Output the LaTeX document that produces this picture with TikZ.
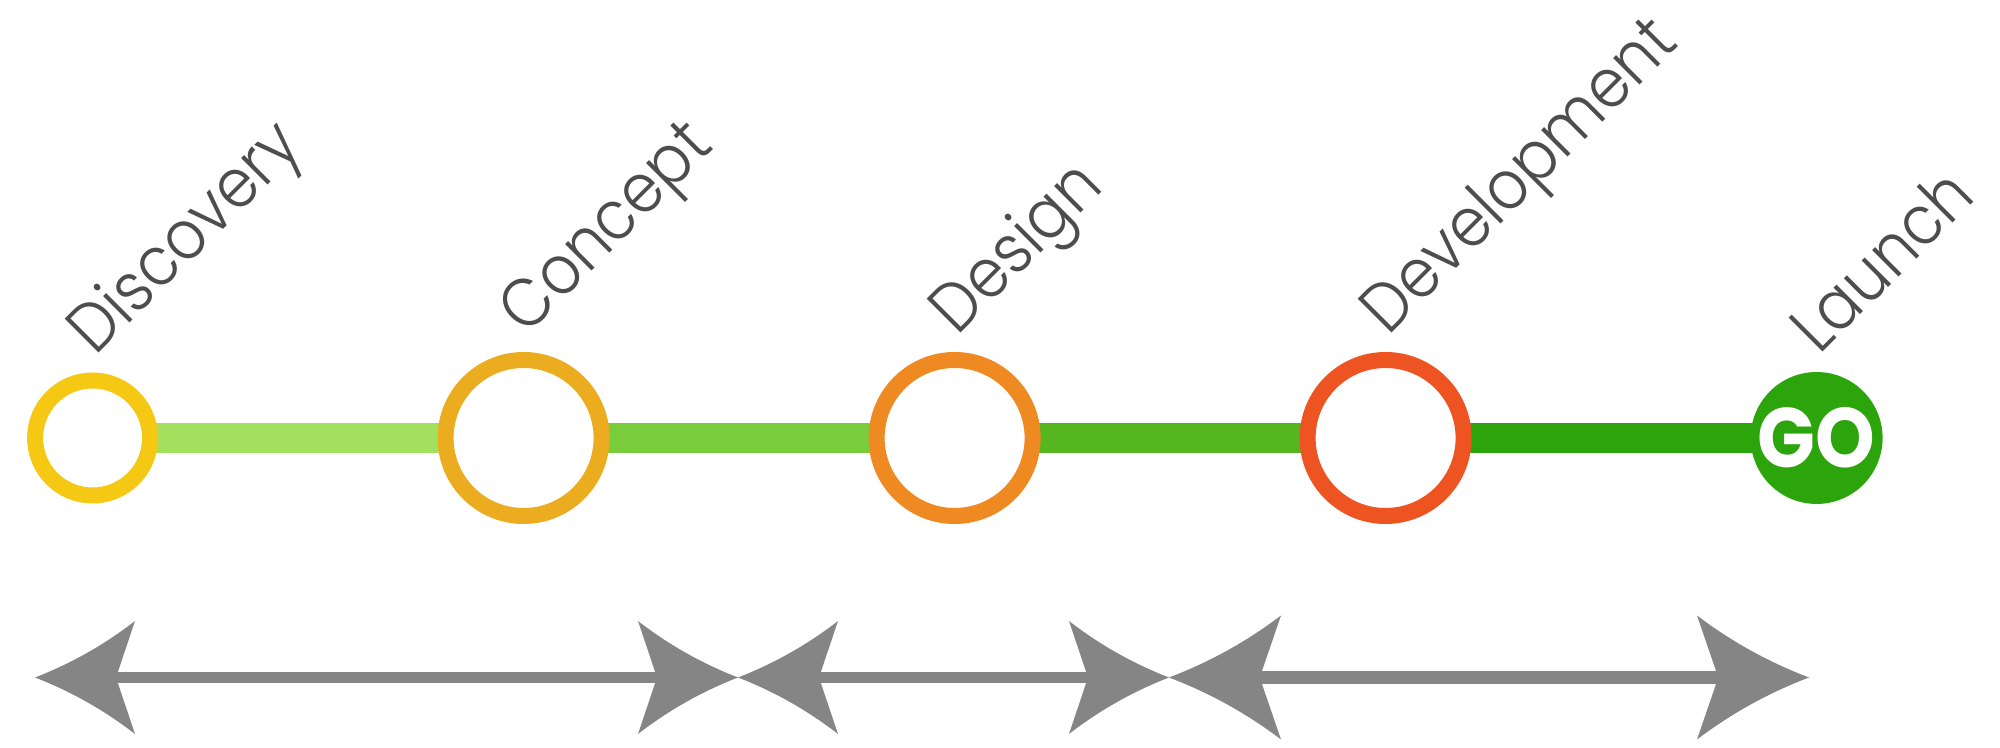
\documentclass[tikz,border=0pt]{standalone}
\usepackage{fontspec}
\usepackage{graphicx}
\setmainfont{Poppins}
\newfontfamily\stagefont{Poppins Light}
\usepackage{tikz}
\usetikzlibrary{arrows.meta,positioning,calc,backgrounds}
\definecolor{stgyel}{HTML}{F5C814}
\definecolor{stggold}{HTML}{EBAC1F}
\definecolor{stgorg}{HTML}{EE8A21}
\definecolor{stgred}{HTML}{EE5421}
\definecolor{stggo}{HTML}{2CA40C}
\definecolor{lnka}{HTML}{A3E05E}
\definecolor{lnkb}{HTML}{79CD3D}
\definecolor{lnkc}{HTML}{55B61F}
\definecolor{lnkd}{HTML}{2CA40C}
\definecolor{stgink}{HTML}{4D4D4D}
\definecolor{phgray}{HTML}{858585}
% curved-sided arrow head
\pgfdeclarearrow{
  name = Swoop,
  parameters = {\the\pgfarrowlength,\the\pgfarrowwidth},
  setup code = {
    \pgfarrowssettipend{0pt}
    \pgfarrowssetlineend{-.79\pgfarrowlength}
    \pgfarrowssetvisualbackend{-\pgfarrowlength}
    \pgfarrowsupperhullpoint{-\pgfarrowlength}{.5\pgfarrowwidth}
    \pgfarrowsupperhullpoint{0pt}{0pt}
    \pgfarrowssavethe\pgfarrowlength
    \pgfarrowssavethe\pgfarrowwidth
  },
  drawing code = {
    \pgfpathmoveto{\pgfpointorigin}
    \pgfpathquadraticcurveto{\pgfpoint{-.54\pgfarrowlength}{.185\pgfarrowwidth}}{\pgfpoint{-\pgfarrowlength}{.5\pgfarrowwidth}}
    \pgfpathlineto{\pgfpoint{-.81\pgfarrowlength}{0pt}}
    \pgfpathlineto{\pgfpoint{-\pgfarrowlength}{-.5\pgfarrowwidth}}
    \pgfpathquadraticcurveto{\pgfpoint{-.54\pgfarrowlength}{-.185\pgfarrowwidth}}{\pgfpointorigin}
    \pgfpathclose
    \pgfusepathqfill
  },
  defaults = {length=10pt,width=11pt}
}
\newcommand{\stagename}[1]{\scalebox{0.9}[1]{#1}}
\tikzset{
  ring/.style={circle,draw,fill=white,line width=1.6mm,inner sep=0pt},
  smallring/.style={ring,minimum size=11.5mm},
  bigring/.style={ring,minimum size=15.6mm},
  gobadge/.style={circle,fill=stggo,inner sep=0pt,minimum size=12.9mm,
              text=white,font=\bfseries\fontsize{24}{26}\selectfont},
  stage/.style={font=\stagefont\fontsize{19.5}{21}\selectfont,text=stgink,
              rotate=45,anchor=base west,inner sep=0pt},
  link/.style={line width=3mm},
  phase/.style={color=phgray,line width=1.15mm,
              {Swoop[length=10mm,width=11.3mm]}-{Swoop[length=10mm,width=11.3mm]}},
  phasebig/.style={color=phgray,line width=1.35mm,
              {Swoop[length=11.2mm,width=12.4mm]}-{Swoop[length=11.2mm,width=12.4mm]}},
}

\begin{document}
\begin{tikzpicture}[x=1cm,y=1cm]
  \useasboundingbox (0,0) rectangle (20,7.48);

  % stages
  \node[smallring,draw=stgyel] (c1) at (0.926,3.10) {};
  \node[bigring,draw=stggold] (c2) at (5.236,3.10) {};
  \node[bigring,draw=stgorg] (c3) at (9.546,3.10) {};
  \node[bigring,draw=stgred] (c4) at (13.856,3.10) {};
  \node[gobadge] (c5) at (18.166,3.10) {\scalebox{0.9}[1]{GO}};

  % links behind the stages
  \begin{scope}[on background layer]
    \draw[link,draw=lnka] (c1.center) -- (c2.center);
    \draw[link,draw=lnkb] (c2.center) -- (c3.center);
    \draw[link,draw=lnkc] (c3.center) -- (c4.center);
    \draw[link,draw=lnkd] (c4.center) -- (c5.center);
  \end{scope}

  % stage names
  \node[stage] (t1) at ($(c1.north)+(0.025,0.15)$) {\stagename{Discovery}};
  \node[stage] (t2) at ($(c2.north)+(0.025,0.15)$) {\stagename{Concept}};
  \node[stage] (t3) at ($(c3.north)+(0.025,0.15)$) {\stagename{Design}};
  \node[stage] (t4) at ($(c4.north)+(0.025,0.15)$) {\stagename{Development}};
  \node[stage] (t5) at ($(c5.north)+(0.025,0.15)$) {\stagename{Launch}};

  % phase spans
  \coordinate (p0) at (0.35,0.705);
  \coordinate (p1) at (7.38,0.705);
  \coordinate (p2) at (11.69,0.705);
  \coordinate (p3) at (18.09,0.705);
  \draw[phase] (p0) -- (p1);
  \draw[phase] (p1) -- (p2);
  \draw[phasebig] (p2) -- (p3);
\end{tikzpicture}
\end{document}
